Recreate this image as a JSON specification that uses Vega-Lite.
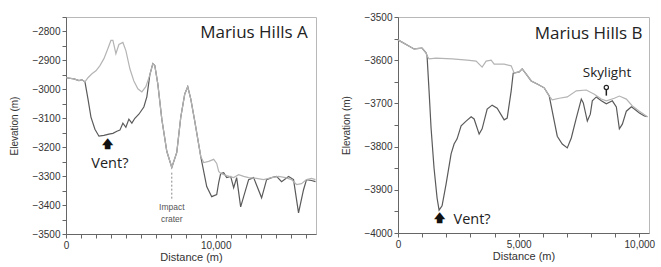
{
  "$schema": "https://vega.github.io/schema/vega-lite/v6.json",
  "padding": {"left": 9, "top": 11, "right": 0, "bottom": 0},
  "background": "white",
  "spacing": 22,
  "config": {
    "view": {"stroke": "#b8b8b8", "strokeWidth": 1},
    "font": "Liberation Sans",
    "axis": {"grid": false, "domainColor": "#666", "tickColor": "#666", "labelColor": "#333", "labelFontSize": 10, "titleFontSize": 10, "titleFontWeight": "normal", "titleColor": "#333", "tickSize": 4, "labelPadding": 2, "labelFont": "Liberation Sans", "titleFont": "Liberation Sans", "labelOverlap": false, "labelFlush": false, "tickCount": 100}
  },
  "datasets": {
    "A": [
      {"d": 0, "e": -2960, "s": "dark"}, {"d": 533, "e": -2964, "s": "dark"}, {"d": 867, "e": -2970, "s": "dark"}, {"d": 1067, "e": -2967, "s": "dark"}, {"d": 1267, "e": -2974, "s": "dark"},
      {"d": 1467, "e": -3033, "s": "dark"}, {"d": 1667, "e": -3096, "s": "dark"}, {"d": 1933, "e": -3138, "s": "dark"}, {"d": 2200, "e": -3162, "s": "dark"}, {"d": 2533, "e": -3159, "s": "dark"},
      {"d": 2867, "e": -3155, "s": "dark"}, {"d": 3133, "e": -3152, "s": "dark"}, {"d": 3400, "e": -3145, "s": "dark"}, {"d": 3600, "e": -3141, "s": "dark"}, {"d": 3800, "e": -3117, "s": "dark"},
      {"d": 4000, "e": -3131, "s": "dark"}, {"d": 4200, "e": -3103, "s": "dark"}, {"d": 4400, "e": -3117, "s": "dark"}, {"d": 4600, "e": -3100, "s": "dark"}, {"d": 4867, "e": -3086, "s": "dark"},
      {"d": 5200, "e": -3061, "s": "dark"}, {"d": 5400, "e": -3026, "s": "dark"}, {"d": 5600, "e": -2950, "s": "dark"}, {"d": 5800, "e": -2911, "s": "dark"}, {"d": 5933, "e": -2918, "s": "dark"},
      {"d": 6133, "e": -2981, "s": "dark"}, {"d": 6400, "e": -3103, "s": "dark"}, {"d": 6733, "e": -3214, "s": "dark"}, {"d": 7067, "e": -3270, "s": "dark"}, {"d": 7400, "e": -3218, "s": "dark"},
      {"d": 7667, "e": -3096, "s": "dark"}, {"d": 7933, "e": -3016, "s": "dark"}, {"d": 8133, "e": -2991, "s": "dark"}, {"d": 8333, "e": -3033, "s": "dark"}, {"d": 8600, "e": -3110, "s": "dark"},
      {"d": 9000, "e": -3232, "s": "dark"}, {"d": 9400, "e": -3336, "s": "dark"}, {"d": 9733, "e": -3371, "s": "dark"}, {"d": 10067, "e": -3364, "s": "dark"}, {"d": 10200, "e": -3322, "s": "dark"},
      {"d": 10333, "e": -3291, "s": "dark"}, {"d": 10533, "e": -3288, "s": "dark"}, {"d": 10733, "e": -3305, "s": "dark"}, {"d": 11000, "e": -3301, "s": "dark"}, {"d": 11200, "e": -3340, "s": "dark"},
      {"d": 11400, "e": -3305, "s": "dark"}, {"d": 11667, "e": -3406, "s": "dark"}, {"d": 11867, "e": -3371, "s": "dark"}, {"d": 12200, "e": -3312, "s": "dark"}, {"d": 12533, "e": -3305, "s": "dark"},
      {"d": 13067, "e": -3375, "s": "dark"}, {"d": 13400, "e": -3312, "s": "dark"}, {"d": 13733, "e": -3305, "s": "dark"}, {"d": 14067, "e": -3301, "s": "dark"}, {"d": 14400, "e": -3319, "s": "dark"},
      {"d": 14867, "e": -3301, "s": "dark"}, {"d": 15200, "e": -3312, "s": "dark"}, {"d": 15533, "e": -3427, "s": "dark"}, {"d": 15867, "e": -3347, "s": "dark"}, {"d": 16067, "e": -3312, "s": "dark"},
      {"d": 16400, "e": -3315, "s": "dark"}, {"d": 16667, "e": -3319, "s": "dark"},
      {"d": 0, "e": -2960, "s": "light"}, {"d": 533, "e": -2964, "s": "light"}, {"d": 867, "e": -2970, "s": "light"}, {"d": 1067, "e": -2967, "s": "light"}, {"d": 1267, "e": -2974, "s": "light"},
      {"d": 1467, "e": -2960, "s": "light"}, {"d": 1733, "e": -2946, "s": "light"}, {"d": 2000, "e": -2936, "s": "light"}, {"d": 2267, "e": -2918, "s": "light"}, {"d": 2533, "e": -2894, "s": "light"},
      {"d": 2800, "e": -2859, "s": "light"}, {"d": 3000, "e": -2831, "s": "light"}, {"d": 3133, "e": -2831, "s": "light"}, {"d": 3333, "e": -2877, "s": "light"}, {"d": 3533, "e": -2845, "s": "light"},
      {"d": 3800, "e": -2838, "s": "light"}, {"d": 4000, "e": -2866, "s": "light"}, {"d": 4267, "e": -2929, "s": "light"}, {"d": 4533, "e": -2971, "s": "light"}, {"d": 4800, "e": -2998, "s": "light"},
      {"d": 5067, "e": -3009, "s": "light"}, {"d": 5333, "e": -2991, "s": "light"}, {"d": 5600, "e": -2950, "s": "light"}, {"d": 5800, "e": -2911, "s": "light"}, {"d": 5933, "e": -2918, "s": "light"},
      {"d": 6133, "e": -2981, "s": "light"}, {"d": 6400, "e": -3103, "s": "light"}, {"d": 6733, "e": -3214, "s": "light"}, {"d": 7067, "e": -3270, "s": "light"}, {"d": 7400, "e": -3218, "s": "light"},
      {"d": 7667, "e": -3096, "s": "light"}, {"d": 7933, "e": -3016, "s": "light"}, {"d": 8133, "e": -2991, "s": "light"}, {"d": 8333, "e": -3033, "s": "light"}, {"d": 8600, "e": -3110, "s": "light"},
      {"d": 9000, "e": -3232, "s": "light"}, {"d": 9200, "e": -3253, "s": "light"}, {"d": 9533, "e": -3249, "s": "light"}, {"d": 9867, "e": -3242, "s": "light"}, {"d": 10067, "e": -3256, "s": "light"},
      {"d": 10200, "e": -3284, "s": "light"}, {"d": 10333, "e": -3291, "s": "light"}, {"d": 10733, "e": -3298, "s": "light"}, {"d": 11200, "e": -3305, "s": "light"}, {"d": 11533, "e": -3295, "s": "light"},
      {"d": 11867, "e": -3301, "s": "light"}, {"d": 12200, "e": -3305, "s": "light"}, {"d": 12733, "e": -3308, "s": "light"}, {"d": 13200, "e": -3312, "s": "light"}, {"d": 13733, "e": -3305, "s": "light"},
      {"d": 14200, "e": -3301, "s": "light"}, {"d": 14667, "e": -3305, "s": "light"}, {"d": 15067, "e": -3312, "s": "light"}, {"d": 15400, "e": -3329, "s": "light"}, {"d": 15733, "e": -3326, "s": "light"},
      {"d": 16067, "e": -3312, "s": "light"}, {"d": 16400, "e": -3308, "s": "light"}, {"d": 16667, "e": -3312, "s": "light"}
    ],
    "B": [
      {"d": 0, "e": -3553, "s": "dark"}, {"d": 664, "e": -3574, "s": "dark"}, {"d": 996, "e": -3572, "s": "dark"}, {"d": 1162, "e": -3583, "s": "dark"}, {"d": 1204, "e": -3590, "s": "dark"},
      {"d": 1287, "e": -3671, "s": "dark"}, {"d": 1370, "e": -3757, "s": "dark"}, {"d": 1494, "e": -3850, "s": "dark"}, {"d": 1619, "e": -3919, "s": "dark"}, {"d": 1702, "e": -3947, "s": "dark"},
      {"d": 1826, "e": -3937, "s": "dark"}, {"d": 1992, "e": -3887, "s": "dark"}, {"d": 2200, "e": -3817, "s": "dark"}, {"d": 2324, "e": -3794, "s": "dark"}, {"d": 2449, "e": -3782, "s": "dark"},
      {"d": 2615, "e": -3752, "s": "dark"}, {"d": 2822, "e": -3741, "s": "dark"}, {"d": 3030, "e": -3731, "s": "dark"}, {"d": 3154, "e": -3736, "s": "dark"}, {"d": 3362, "e": -3771, "s": "dark"},
      {"d": 3486, "e": -3759, "s": "dark"}, {"d": 3694, "e": -3713, "s": "dark"}, {"d": 3901, "e": -3704, "s": "dark"}, {"d": 4109, "e": -3711, "s": "dark"}, {"d": 4399, "e": -3738, "s": "dark"},
      {"d": 4524, "e": -3734, "s": "dark"}, {"d": 4690, "e": -3671, "s": "dark"}, {"d": 4773, "e": -3630, "s": "dark"}, {"d": 5022, "e": -3627, "s": "dark"}, {"d": 5146, "e": -3620, "s": "dark"},
      {"d": 5312, "e": -3632, "s": "dark"}, {"d": 5520, "e": -3648, "s": "dark"}, {"d": 5769, "e": -3655, "s": "dark"}, {"d": 6059, "e": -3664, "s": "dark"}, {"d": 6267, "e": -3683, "s": "dark"},
      {"d": 6474, "e": -3741, "s": "dark"}, {"d": 6599, "e": -3776, "s": "dark"}, {"d": 6806, "e": -3794, "s": "dark"}, {"d": 7014, "e": -3803, "s": "dark"}, {"d": 7180, "e": -3780, "s": "dark"},
      {"d": 7387, "e": -3734, "s": "dark"}, {"d": 7595, "e": -3690, "s": "dark"}, {"d": 7678, "e": -3699, "s": "dark"}, {"d": 7844, "e": -3741, "s": "dark"}, {"d": 7968, "e": -3725, "s": "dark"},
      {"d": 8051, "e": -3694, "s": "dark"}, {"d": 8217, "e": -3685, "s": "dark"}, {"d": 8425, "e": -3694, "s": "dark"}, {"d": 8632, "e": -3701, "s": "dark"}, {"d": 8881, "e": -3694, "s": "dark"},
      {"d": 9047, "e": -3708, "s": "dark"}, {"d": 9172, "e": -3759, "s": "dark"}, {"d": 9296, "e": -3748, "s": "dark"}, {"d": 9462, "e": -3718, "s": "dark"}, {"d": 9670, "e": -3708, "s": "dark"},
      {"d": 9794, "e": -3713, "s": "dark"}, {"d": 10002, "e": -3722, "s": "dark"}, {"d": 10209, "e": -3729, "s": "dark"}, {"d": 10334, "e": -3731, "s": "dark"},
      {"d": 0, "e": -3553, "s": "light"}, {"d": 664, "e": -3574, "s": "light"}, {"d": 996, "e": -3572, "s": "light"}, {"d": 1162, "e": -3583, "s": "light"}, {"d": 1204, "e": -3590, "s": "light"},
      {"d": 1287, "e": -3597, "s": "light"}, {"d": 1577, "e": -3595, "s": "light"}, {"d": 2241, "e": -3597, "s": "light"}, {"d": 2864, "e": -3600, "s": "light"}, {"d": 3237, "e": -3602, "s": "light"},
      {"d": 3486, "e": -3616, "s": "light"}, {"d": 3652, "e": -3602, "s": "light"}, {"d": 3860, "e": -3600, "s": "light"}, {"d": 3984, "e": -3609, "s": "light"}, {"d": 4399, "e": -3609, "s": "light"},
      {"d": 4690, "e": -3613, "s": "light"}, {"d": 4814, "e": -3630, "s": "light"}, {"d": 5022, "e": -3627, "s": "light"}, {"d": 5146, "e": -3620, "s": "light"},
      {"d": 5312, "e": -3632, "s": "light"}, {"d": 5520, "e": -3648, "s": "light"}, {"d": 5769, "e": -3655, "s": "light"}, {"d": 6059, "e": -3664, "s": "light"}, {"d": 6267, "e": -3683, "s": "light"},
      {"d": 6391, "e": -3692, "s": "light"}, {"d": 6682, "e": -3688, "s": "light"}, {"d": 7014, "e": -3685, "s": "light"}, {"d": 7387, "e": -3671, "s": "light"}, {"d": 7802, "e": -3669, "s": "light"},
      {"d": 8134, "e": -3679, "s": "light"}, {"d": 8425, "e": -3690, "s": "light"}, {"d": 8632, "e": -3694, "s": "light"}, {"d": 8964, "e": -3688, "s": "light"}, {"d": 9172, "e": -3683, "s": "light"},
      {"d": 9462, "e": -3690, "s": "light"}, {"d": 9711, "e": -3706, "s": "light"}, {"d": 10002, "e": -3718, "s": "light"}, {"d": 10334, "e": -3731, "s": "light"}
    ]
  },
  "hconcat": [
    {
      "width": 250,
      "height": 217,
      "layer": [
        {
          "data": {"name": "A"},
          "mark": {"type": "line", "strokeWidth": 1.2},
          "encoding": {
            "x": {"field": "d", "type": "quantitative", "title": "Distance (m)", "scale": {"domain": [0, 16700], "nice": false},
              "axis": {"values": [0,1000,2000,3000,4000,5000,6000,7000,8000,9000,10000,11000,12000,13000,14000,15000,16000], "tickCount": 100, "format": ",d", "labelOverlap": false, "labelExpr": "datum.value == 0 || datum.value == 10000 ? datum.label : ''", "titlePadding": 1, "titleFontSize": 11}},
            "y": {"field": "e", "type": "quantitative", "title": "Elevation (m)", "scale": {"domain": [-3500, -2750], "nice": false, "zero": false},
              "axis": {"values": [-3500,-3450,-3400,-3350,-3300,-3250,-3200,-3150,-3100,-3050,-3000,-2950,-2900,-2850,-2800,-2750], "tickCount": 100, "format": "d", "labelOverlap": false, "labelExpr": "datum.value % 100 == 0 ? datum.label : ''", "titlePadding": 12}},
            "color": {"field": "s", "type": "nominal", "scale": {"domain": ["light", "dark"], "range": ["#b4b4b4", "#5a5a5a"]}, "legend": null},
            "order": {"field": "d", "type": "quantitative"}
          }
        },
        {
          "data": {"values": [{"d": 7067, "e1": -3288, "e2": -3385}]},
          "mark": {"type": "rule", "strokeDash": [2, 2], "color": "#888", "strokeWidth": 1},
          "encoding": {"x": {"field": "d", "type": "quantitative"}, "y": {"field": "e1", "type": "quantitative"}, "y2": {"field": "e2"}}
        },
        {
          "data": {"values": [{"d": 7067, "e": -3405, "t": "Impact"}, {"d": 7067, "e": -3447, "t": "crater"}]},
          "mark": {"type": "text", "fontSize": 8.5, "color": "#555", "font": "Liberation Sans"},
          "encoding": {"x": {"field": "d", "type": "quantitative"}, "y": {"field": "e", "type": "quantitative"}, "text": {"field": "t"}}
        },
        {
          "data": {"values": [{"d": 2750, "e": -3192, "t": "🡅"}]},
          "mark": {"type": "text", "fontSize": 11, "color": "#111", "fontWeight": "bold", "font": "DejaVu Sans"},
          "encoding": {"x": {"field": "d", "type": "quantitative"}, "y": {"field": "e", "type": "quantitative"}, "text": {"field": "t"}}
        },
        {
          "data": {"values": [{"d": 2930, "e": -3258, "t": "Vent?"}]},
          "mark": {"type": "text", "fontSize": 14.5, "color": "#222", "font": "Open Sans"},
          "encoding": {"x": {"field": "d", "type": "quantitative"}, "y": {"field": "e", "type": "quantitative"}, "text": {"field": "t"}}
        },
        {
          "data": {"values": [{"d": 16150, "e": -2805, "t": "Marius Hills A"}]},
          "mark": {"type": "text", "fontSize": 17, "color": "#222", "align": "right", "font": "Open Sans"},
          "encoding": {"x": {"field": "d", "type": "quantitative"}, "y": {"field": "e", "type": "quantitative"}, "text": {"field": "t"}}
        }
      ]
    },
    {
      "width": 251,
      "height": 216,
      "layer": [
        {
          "data": {"name": "B"},
          "mark": {"type": "line", "strokeWidth": 1.2},
          "encoding": {
            "x": {"field": "d", "type": "quantitative", "title": "Distance (m)", "scale": {"domain": [0, 10400], "nice": false},
              "axis": {"values": [0,1000,2000,3000,4000,5000,6000,7000,8000,9000,10000], "tickCount": 100, "format": ",d", "labelOverlap": false, "labelExpr": "datum.value % 5000 == 0 ? datum.label : ''", "titlePadding": 1, "titleFontSize": 11}},
            "y": {"field": "e", "type": "quantitative", "title": "Elevation (m)", "scale": {"domain": [-4000, -3500], "nice": false, "zero": false},
              "axis": {"values": [-4000,-3950,-3900,-3850,-3800,-3750,-3700,-3650,-3600,-3550,-3500], "tickCount": 100, "format": "d", "labelOverlap": false, "labelExpr": "datum.value % 100 == 0 ? datum.label : ''", "titlePadding": 12}},
            "color": {"field": "s", "type": "nominal", "scale": {"domain": ["light", "dark"], "range": ["#b4b4b4", "#5a5a5a"]}, "legend": null},
            "order": {"field": "d", "type": "quantitative"}
          }
        },
        {
          "data": {"values": [{"d": 8632, "e1": -3668, "e2": -3682}]},
          "mark": {"type": "rule", "color": "#222", "strokeWidth": 1.5},
          "encoding": {"x": {"field": "d", "type": "quantitative"}, "y": {"field": "e1", "type": "quantitative"}, "y2": {"field": "e2"}}
        },
        {
          "data": {"values": [{"d": 8632, "e": -3663}]},
          "mark": {"type": "point", "shape": "circle", "filled": false, "size": 18, "color": "#222", "strokeWidth": 1.2, "opacity": 1},
          "encoding": {"x": {"field": "d", "type": "quantitative"}, "y": {"field": "e", "type": "quantitative"}}
        },
        {
          "data": {"values": [{"d": 8660, "e": -3630, "t": "Skylight"}]},
          "mark": {"type": "text", "fontSize": 13.5, "color": "#222", "font": "Open Sans"},
          "encoding": {"x": {"field": "d", "type": "quantitative"}, "y": {"field": "e", "type": "quantitative"}, "text": {"field": "t"}}
        },
        {
          "data": {"values": [{"d": 1702, "e": -3968, "t": "🡅"}]},
          "mark": {"type": "text", "fontSize": 11, "color": "#111", "fontWeight": "bold", "font": "DejaVu Sans"},
          "encoding": {"x": {"field": "d", "type": "quantitative"}, "y": {"field": "e", "type": "quantitative"}, "text": {"field": "t"}}
        },
        {
          "data": {"values": [{"d": 2300, "e": -3970, "t": "Vent?"}]},
          "mark": {"type": "text", "fontSize": 14.5, "color": "#222", "align": "left", "font": "Open Sans"},
          "encoding": {"x": {"field": "d", "type": "quantitative"}, "y": {"field": "e", "type": "quantitative"}, "text": {"field": "t"}}
        },
        {
          "data": {"values": [{"d": 10130, "e": -3540, "t": "Marius Hills B"}]},
          "mark": {"type": "text", "fontSize": 17, "color": "#222", "align": "right", "font": "Open Sans"},
          "encoding": {"x": {"field": "d", "type": "quantitative"}, "y": {"field": "e", "type": "quantitative"}, "text": {"field": "t"}}
        }
      ]
    }
  ]
}
